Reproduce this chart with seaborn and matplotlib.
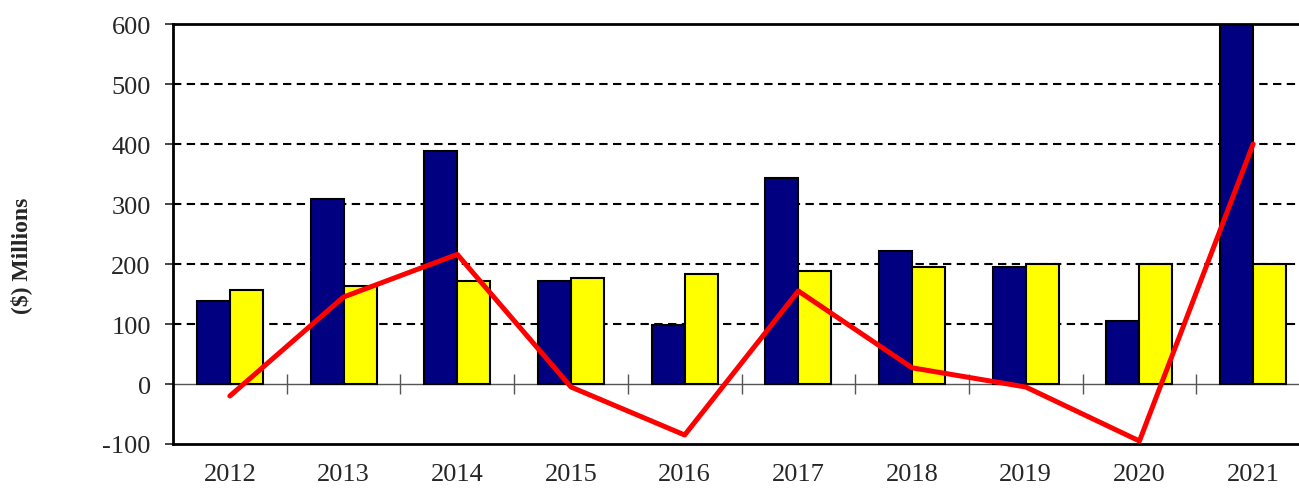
"""Annual navy vs. yellow bars with the red difference line, 2012-2021."""
import matplotlib.pyplot as plt
import numpy as np
import pandas as pd
import seaborn as sns

years = ["2012", "2013", "2014", "2015", "2016", "2017", "2018", "2019", "2020", "2021"]
navy_vals = [138, 308, 388, 172, 98, 343, 222, 195, 105, 600]
yellow_vals = [157, 163, 172, 177, 183, 188, 195, 200, 200, 200]
diff_vals = [-20, 145, 216, -5, -85, 155, 27, -5, -95, 400]

yticks = [-100, 0, 100, 200, 300, 400, 500, 600]

sns.set_theme(style="white")
plt.rcParams["font.family"] = ["Liberation Serif", "DejaVu Serif"]
plt.rcParams["axes.unicode_minus"] = False

bars = pd.DataFrame({
    "year": years * 2,
    "series": ["navy"] * len(years) + ["yellow"] * len(years),
    "value": navy_vals + yellow_vals,
})
line = pd.DataFrame({"pos": np.arange(len(years)), "value": diff_vals})

fig = plt.figure(figsize=(12.99, 4.89), dpi=100)
ax = fig.add_axes([173 / 1299, 1 - 445 / 489, 1137 / 1299, 420 / 489])

# dashed grid behind the bars
for y in yticks[2:-1]:
    ax.axhline(y, color="black", lw=1.5, ls=(0, (4, 2.6)), zorder=0)

sns.barplot(
    data=bars, x="year", y="value", hue="series", order=years,
    palette={"navy": "#000080", "yellow": "#FFFF00"},
    width=0.58, edgecolor="black", linewidth=1.5, saturation=1,
    legend=False, ax=ax, zorder=2,
)
sns.lineplot(data=line, x="pos", y="value", color="#FF0000", lw=3.6, ax=ax, zorder=3)

ax.set_xlim(-0.5, len(years) - 0.5)
ax.set_ylim(-100, 600)
ax.set_yticks(yticks)
ax.set_xticks(range(len(years)))
ax.set_xticklabels(years)
ax.tick_params(axis="y", direction="out", length=6, width=1.2, pad=10, labelsize=19, left=True)
ax.tick_params(axis="x", length=0, pad=14, labelsize=19)
ax.set_xlabel("")
ax.set_ylabel("($) Millions", fontsize=17, fontweight="bold")
ax.yaxis.set_label_coords(-0.124, 0.45)

for side in ["left", "bottom", "top"]:
    ax.spines[side].set_visible(True)
    ax.spines[side].set_color("black")
    ax.spines[side].set_linewidth(2)
ax.spines["right"].set_visible(False)

# zero line with category-boundary ticks
zero = ax.secondary_xaxis(100 / 700)
zero.spines["bottom"].set_color("#555555")
zero.spines["bottom"].set_linewidth(1)
zero.set_xticks(np.arange(0.5, len(years) - 0.5, 1.0))
zero.tick_params(direction="inout", length=14, width=1, color="#555555", labelbottom=False)

fig.savefig("out.png", dpi=100)
